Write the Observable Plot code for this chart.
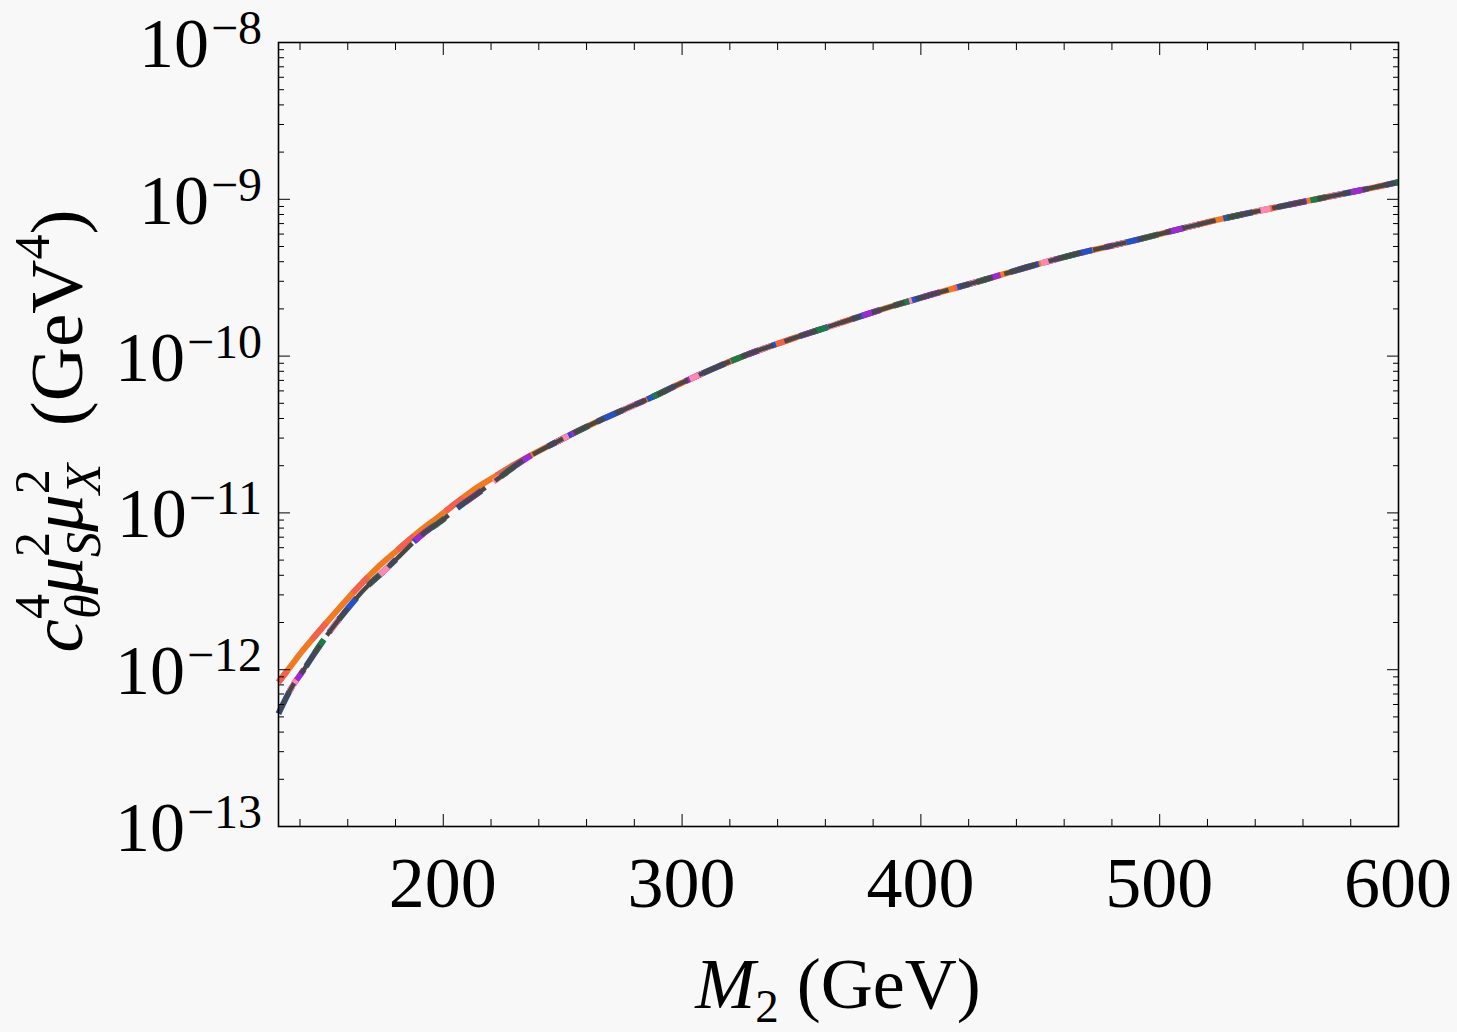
<!DOCTYPE html>
<html>
<head>
<meta charset="utf-8">
<script src="https://cdn.jsdelivr.net/npm/d3@7"></script>
<script src="https://cdn.jsdelivr.net/npm/@observablehq/plot@0.6"></script>
<style>
  html, body { margin: 0; padding: 0; background: #f8f8f8; }
  #chart svg { display: block; }
</style>
</head>
<body>
<div id="chart"></div>
<script>
// ---- data (M2 in GeV, value in GeV^4) ----
const M2_upper = [131,136,141,148,156,164,172,181,189,198,206,214,223,231,249,267,287,300,324,345,364,384,404,425,444,466,486,507,526,546,567,588,600];
const upperVal = [8.32e-13,1.047e-12,1.318e-12,1.758e-12,2.427e-12,3.311e-12,4.416e-12,5.821e-12,7.413e-12,9.44e-12,1.175e-11,1.445e-11,1.758e-11,2.089e-11,2.917e-11,3.981e-11,5.433e-11,6.761e-11,9.772e-11,1.274e-10,1.585e-10,1.995e-10,2.455e-10,3.020e-10,3.673e-10,4.519e-10,5.309e-10,6.383e-10,7.499e-10,8.710e-10,1.012e-9,1.175e-9,1.288e-9];

const M2_lower = [131,137,141,149,153,162,166,177,181,192,198,208,214,225,231,249,267,287,300,324,345,364,384,404,425,444,466,486,507,526,546,567,588,600];
const lowerVal = [5.25e-13,7.94e-13,9.70e-13,1.479e-12,1.799e-12,2.673e-12,3.141e-12,4.529e-12,5.188e-12,7.464e-12,8.630e-12,1.135e-11,1.318e-11,1.746e-11,2.042e-11,2.917e-11,3.981e-11,5.433e-11,6.761e-11,9.772e-11,1.274e-10,1.585e-10,1.995e-10,2.455e-10,3.020e-10,3.673e-10,4.519e-10,5.309e-10,6.383e-10,7.499e-10,8.710e-10,1.012e-9,1.175e-9,1.288e-9];

const xMajorTicks = [200, 300, 400, 500, 600];
const xMinorTicks = [140,160,180,220,240,260,280,320,340,360,380,420,440,460,480,520,540,560,580];
const yExponents = [-13, -12, -11, -10, -9, -8];
const xTickLabels = ["200", "300", "400", "500", "600"];

// ---- tables ----
const upper = M2_upper.map((m, i) => ({M2: m, v: upperVal[i]}));
const lower = M2_lower.map((m, i) => ({M2: m, v: lowerVal[i]}));
const yMajor = yExponents.map(e => Math.pow(10, e));
const yMinor = [];
for (const e of yExponents.slice(0, -1)) for (let k = 2; k <= 9; k++) yMinor.push(k * Math.pow(10, e));

const noText = () => "";
const line = (data, opts) => Plot.line(data, {x: "M2", y: "v", curve: "monotone-x", strokeWidth: 5.5, strokeLinecap: "butt", ...opts});

const plot = Plot.plot({
  width: 1457,
  height: 1032,
  marginLeft: 278,
  marginRight: 59,
  marginTop: 42,
  marginBottom: 206,
  style: {background: "#f8f8f8", fontFamily: "'Liberation Serif', 'Times New Roman', serif", overflow: "visible"},
  x: {domain: [131, 600]},
  y: {type: "log", domain: [1e-13, 1e-8]},
  marks: [
    // curves
    line(upper, {stroke: "#f07a22", strokeWidth: 6}),
    line(upper, {stroke: "#f2604e", strokeDasharray: "22,40", strokeDashoffset: 8, strokeWidth: 6}),
    line(lower, {stroke: "#2450c8", strokeDasharray: "30,25", strokeDashoffset: 0, strokeWidth: 6}),
    line(lower, {stroke: "#9a2bd0", strokeDasharray: "18,45", strokeDashoffset: 30, strokeWidth: 6}),
    line(lower, {stroke: "#ff88b0", strokeDasharray: "14,60", strokeDashoffset: 50, strokeWidth: 6}),
    line(lower, {stroke: "#1f7a4a", strokeDasharray: "16,70", strokeDashoffset: 15, strokeWidth: 6}),
    line(lower, {stroke: "#474747", strokeDasharray: "34,12", strokeDashoffset: 0, strokeWidth: 4.5}),
    // frame
    Plot.frame({stroke: "#000", strokeWidth: 1.6}),
    // inward ticks, all four sides
    Plot.axisX({anchor: "bottom", ticks: xMajorTicks, tickSize: -12, tickFormat: noText, label: null}),
    Plot.axisX({anchor: "bottom", ticks: xMinorTicks, tickSize: -7, tickFormat: noText, label: null}),
    Plot.axisX({anchor: "top", ticks: xMajorTicks, tickSize: -12, tickFormat: noText, label: null}),
    Plot.axisX({anchor: "top", ticks: xMinorTicks, tickSize: -7, tickFormat: noText, label: null}),
    Plot.axisY({anchor: "left", ticks: yMajor, tickSize: -12, tickFormat: noText, label: null}),
    Plot.axisY({anchor: "left", ticks: yMinor, tickSize: -6, tickFormat: noText, label: null}),
    Plot.axisY({anchor: "right", ticks: yMajor, tickSize: -12, tickFormat: noText, label: null}),
    Plot.axisY({anchor: "right", ticks: yMinor, tickSize: -6, tickFormat: noText, label: null})
  ]
});

document.getElementById("chart").appendChild(plot);

// ---- tick labels and axis titles (real text), placed with the plot's scales ----
const xs = plot.scale("x"), ys = plot.scale("y");
const svg = d3.select(plot);
const g = svg.append("g").attr("font-family", "'Liberation Serif', 'Times New Roman', serif").attr("fill", "#000");

xMajorTicks.forEach((t, i) => {
  g.append("text")
    .attr("x", xs.apply(t))
    .attr("y", 907)
    .attr("text-anchor", "middle")
    .attr("font-size", 72)
    .text(xTickLabels[i]);
});

yExponents.forEach(e => {
  const y = ys.apply(Math.pow(10, e));
  const t = g.append("text")
    .attr("x", 262)
    .attr("y", y + 25)
    .attr("text-anchor", "end")
    .attr("font-size", 70);
  t.append("tspan").text("10");
  t.append("tspan").attr("font-size", 48).attr("dy", -23).attr("dx", 2).text("\u2212" + Math.abs(e));
});

// x title: M_2 (GeV)
const xt = g.append("text")
  .attr("x", (xs.range[0] + xs.range[1]) / 2)
  .attr("y", 1008)
  .attr("text-anchor", "middle")
  .attr("font-size", 72);
xt.append("tspan").attr("font-style", "italic").text("M");
xt.append("tspan").attr("font-size", 47).attr("dy", 14).text("2");
xt.append("tspan").attr("dy", -14).text("\u00A0(GeV)");

// y title: c_θ^4 μ_S^2 μ_X^2  (GeV^4)
const yc = (ys.range[0] + ys.range[1]) / 2 - 3;
const yt = g.append("text")
  .attr("transform", `translate(82,${yc}) rotate(-90)`)
  .attr("text-anchor", "middle")
  .attr("font-size", 75);
yt.append("tspan").attr("font-style", "italic").text("c");
yt.append("tspan").attr("font-size", 50).attr("dy", -33).text("4");
yt.append("tspan").attr("font-size", 50).attr("font-style", "italic").attr("dx", -25).attr("dy", 51).text("θ");
yt.append("tspan").attr("font-style", "italic").attr("dy", -18).text("μ");
yt.append("tspan").attr("font-size", 50).attr("dy", -33).text("2");
yt.append("tspan").attr("font-size", 50).attr("font-style", "italic").attr("dx", -25).attr("dy", 51).text("S");
yt.append("tspan").attr("font-style", "italic").attr("dy", -18).text("μ");
yt.append("tspan").attr("font-size", 50).attr("dy", -33).text("2");
yt.append("tspan").attr("font-size", 50).attr("font-style", "italic").attr("dx", -25).attr("dy", 51).text("X");
yt.append("tspan").attr("dy", -18).text("\u00A0\u00A0(GeV");
yt.append("tspan").attr("font-size", 50).attr("dy", -33).text("4");
yt.append("tspan").attr("dy", 33).text(")");
</script>
</body>
</html>
